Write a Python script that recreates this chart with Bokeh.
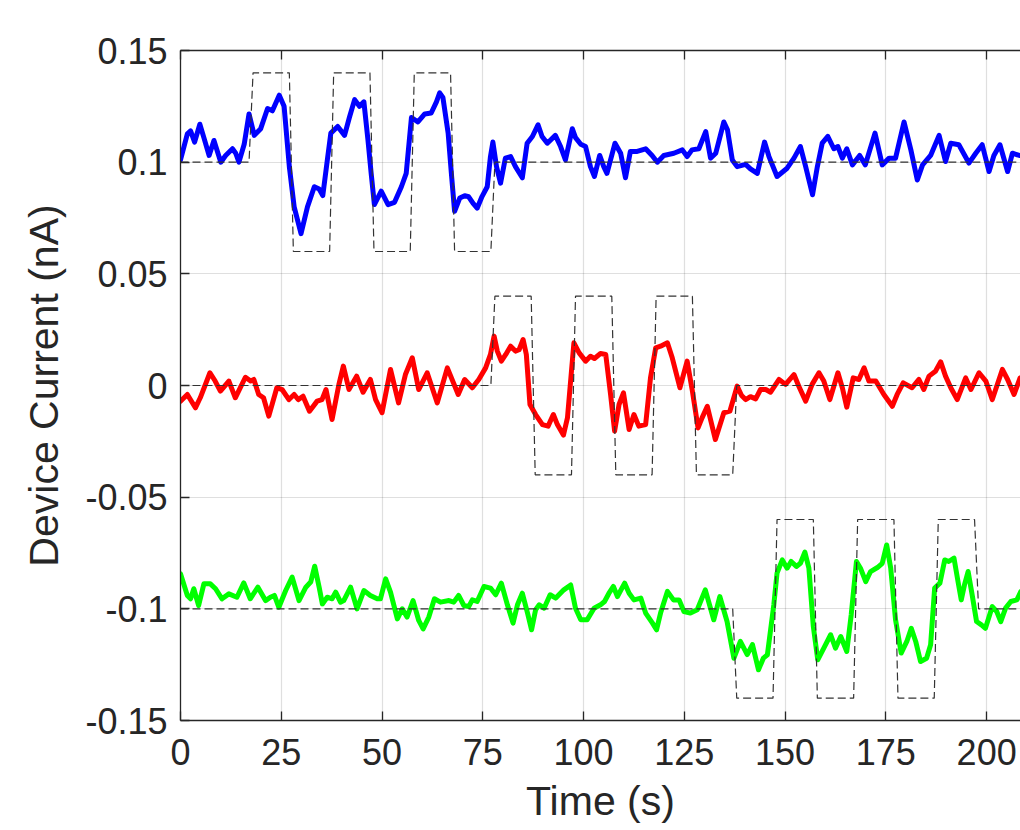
from bokeh.plotting import figure
from bokeh.models import LinearAxis, FixedTicker, Range1d
from bokeh.embed import file_html
from bokeh.resources import INLINE

# ---------------- data ----------------
blue_t = [0.0, 1.7, 2.5, 3.5, 4.8, 5.8, 7.1, 8.3, 10.0, 11.2, 12.9, 13.7, 14.5, 15.8, 17.0, 18.3, 19.9,
          21.6, 22.8, 24.5, 25.7, 27.0, 28.2, 29.9, 31.5, 33.2, 34.4, 35.3, 36.5, 37.3, 39.0, 40.7,
          41.9, 43.2, 44.4, 45.5, 46.5, 47.3, 48.1, 49.8, 51.5, 53.1, 54.8, 56.0, 57.3, 58.9, 60.6,
          62.2, 63.5, 64.3, 65.1, 66.4, 67.2, 68.0, 69.3, 70.5, 71.5, 72.6, 73.6, 74.8, 76.1, 76.9,
          77.5, 78.4, 79.4, 80.6, 81.9, 83.1, 84.8, 86.0, 87.3, 88.7, 89.7, 91.0, 93.0, 94.3, 95.5,
          97.2, 98.0, 99.3, 100.5, 101.7, 102.7, 104.0, 105.0, 105.8, 107.8, 109.2, 110.4, 111.6,
          113.3, 115.4, 117.0, 118.3, 119.9, 122.4, 124.5, 125.7, 126.9, 128.6, 130.3, 131.5, 132.8,
          134.8, 135.7, 136.9, 138.1, 140.2, 141.4, 143.1, 144.9, 146.0, 148.0, 150.5, 152.2, 153.8,
          155.1, 156.8, 158.0, 159.2, 160.6, 162.1, 163.1, 164.2, 165.3, 166.7, 168.5, 169.9, 172.3,
          174.1, 175.8, 177.4, 179.5, 181.2, 182.8, 184.1, 186.1, 188.2, 189.8, 191.1, 193.1, 195.6,
          197.3, 198.9, 200.6, 201.8, 203.3, 205.2, 206.4, 208.1, 209.0]
blue_v = [0.1010, 0.1127, 0.1140, 0.1090, 0.1170, 0.1110, 0.1030, 0.1097, 0.1000, 0.1030, 0.1060,
          0.1040, 0.1000, 0.1080, 0.1216, 0.1120, 0.1150, 0.1240, 0.1230, 0.1300, 0.1250, 0.0980,
          0.0800, 0.0680, 0.0800, 0.0890, 0.0880, 0.0850, 0.1020, 0.1130, 0.1160, 0.1120, 0.1200,
          0.1280, 0.1250, 0.1270, 0.1100, 0.0950, 0.0810, 0.0870, 0.0810, 0.0820, 0.0890, 0.0950,
          0.1200, 0.1180, 0.1216, 0.1220, 0.1270, 0.1310, 0.1290, 0.1130, 0.0950, 0.0780, 0.0840,
          0.0850, 0.0845, 0.0815, 0.0794, 0.0846, 0.0890, 0.1025, 0.1090, 0.0980, 0.0906, 0.1018,
          0.1025, 0.0980, 0.0930, 0.1085, 0.1115, 0.1167, 0.1115, 0.1085, 0.1120, 0.1070, 0.1010,
          0.1150, 0.1110, 0.1080, 0.1070, 0.0980, 0.0936, 0.1030, 0.0980, 0.0950, 0.1085, 0.1040,
          0.0930, 0.1048, 0.1048, 0.1060, 0.1030, 0.1000, 0.1030, 0.1040, 0.1055, 0.1025, 0.1055,
          0.1060, 0.1137, 0.1018, 0.1040, 0.1180, 0.1145, 0.1010, 0.0980, 0.0990, 0.0970, 0.0950,
          0.1090, 0.1025, 0.0936, 0.0973, 0.1018, 0.1070, 0.0980, 0.0854, 0.0980, 0.1085, 0.1115,
          0.1060, 0.1070, 0.1018, 0.1060, 0.0988, 0.1030, 0.0988, 0.1130, 0.0988, 0.1018, 0.1018,
          0.1180, 0.1055, 0.0920, 0.0988, 0.1030, 0.1120, 0.1003, 0.1085, 0.1078, 0.0996, 0.1040,
          0.1078, 0.0958, 0.1030, 0.1078, 0.0958, 0.1040, 0.1030, 0.1030]

red_t = [0.0, 1.7, 3.7, 4.9, 7.3, 8.6, 9.9, 12.0, 13.6, 16.1, 17.4, 18.2, 19.4, 20.6, 21.9, 23.9, 25.2,
         26.9, 28.2, 29.2, 30.4, 32.0, 33.9, 35.1, 36.1, 37.6, 39.3, 40.4, 41.8, 43.7, 45.3, 47.1,
         48.4, 50.0, 52.1, 54.1, 55.8, 57.5, 59.1, 61.2, 63.7, 66.2, 68.9, 70.5, 72.4, 74.0, 75.7,
         76.9, 77.8, 78.6, 79.6, 80.7, 81.9, 83.1, 84.0, 85.0, 85.8, 86.7, 88.1, 89.8, 91.2, 92.5,
         93.5, 95.0, 96.0, 97.6, 98.9, 100.5, 101.7, 102.7, 104.2, 105.5, 106.7, 107.7, 108.8, 109.9,
         111.3, 112.5, 113.7, 115.4, 116.6, 117.9, 119.1, 120.8, 122.0, 123.9, 125.7, 127.0, 128.4,
         129.4, 130.7, 132.7, 134.8, 136.3, 138.1, 139.2, 140.2, 141.4, 142.7, 143.9, 145.2, 146.4,
         148.5, 150.1, 152.2, 153.4, 155.1, 156.7, 158.4, 159.6, 161.1, 163.1, 164.2, 165.3, 166.9,
         168.3, 169.6, 170.8, 172.5, 174.5, 176.6, 177.8, 179.3, 181.5, 183.2, 184.4, 185.7, 187.3,
         188.6, 189.8, 191.1, 192.7, 194.8, 196.1, 198.1, 199.8, 201.4, 203.9, 205.2, 206.8, 208.3,
         209.0]
red_v = [-0.0070, -0.0040, -0.0100, -0.0055, 0.0057, 0.0020, -0.0025, 0.0020, -0.0055, 0.0037, 0.0020,
         0.0027, -0.0040, -0.0055, -0.0137, -0.0010, -0.0018, -0.0063, -0.0040, -0.0063, -0.0048,
         -0.0115, -0.0070, -0.0063, -0.0018, -0.0152, 0.0005, 0.0087, -0.0018, 0.0042, -0.0030,
         0.0027, -0.0063, -0.0122, 0.0072, -0.0078, 0.0049, 0.0124, -0.0018, 0.0057, -0.0078, 0.0079,
         -0.0040, 0.0027, -0.0010, 0.0027, 0.0079, 0.0139, 0.0221, 0.0154, 0.0109, 0.0139, 0.0176,
         0.0154, 0.0160, 0.0206, 0.0139, -0.0085, -0.0130, -0.0175, -0.0182, -0.0130, -0.0175,
         -0.0222, -0.0145, 0.0191, 0.0146, 0.0109, 0.0131, 0.0121, 0.0143, 0.0139, -0.0040, -0.0204,
         -0.0085, -0.0033, -0.0197, -0.0130, -0.0182, -0.0175, 0.0034, 0.0169, 0.0176, 0.0191, 0.0124,
         -0.0010, 0.0109, -0.0025, -0.0190, -0.0145, -0.0093, -0.0242, -0.0122, -0.0115, -0.0003,
         -0.0045, -0.0063, -0.0050, -0.0060, -0.0018, -0.0018, -0.0030, 0.0027, 0.0005, 0.0049,
         -0.0003, -0.0070, 0.0005, 0.0057, 0.0020, -0.0063, 0.0057, -0.0010, -0.0097, 0.0034, 0.0027,
         0.0079, 0.0020, 0.0020, -0.0040, -0.0093, -0.0040, 0.0012, -0.0010, 0.0027, -0.0018, 0.0042,
         0.0064, 0.0106, 0.0042, -0.0010, -0.0063, 0.0034, -0.0018, 0.0057, 0.0020, -0.0063, 0.0072,
         0.0027, -0.0040, 0.0034, 0.0040]

green_t = [0.0, 1.7, 2.5, 3.3, 4.5, 5.8, 7.4, 8.7, 10.3, 12.0, 14.0, 15.7, 17.3, 19.2, 21.1, 22.3, 23.3,
           24.4, 26.1, 27.7, 29.4, 31.1, 32.3, 33.3, 34.4, 35.2, 36.4, 37.6, 38.5, 39.7, 40.5, 42.2,
           43.8, 45.5, 47.1, 48.8, 49.6, 50.9, 52.1, 53.8, 55.0, 56.2, 57.7, 59.1, 60.2, 61.6, 63.0,
           64.5, 66.6, 67.8, 69.0, 70.3, 71.5, 72.4, 73.6, 75.3, 76.9, 78.2, 79.6, 81.1, 82.5, 83.6,
           84.8, 86.1, 87.1, 88.1, 89.0, 90.2, 91.7, 93.1, 95.1, 96.8, 98.0, 99.3, 100.9, 102.6,
           104.2, 105.2, 106.3, 107.4, 108.4, 110.2, 111.3, 112.5, 114.2, 115.4, 117.1, 118.1, 119.1,
           120.8, 122.3, 123.7, 124.9, 126.5, 128.2, 130.2, 132.3, 133.8, 135.6, 137.3, 138.9, 140.6,
           141.9, 143.4, 144.6, 145.6, 147.2, 148.0, 149.3, 150.5, 151.5, 152.8, 153.8, 154.9, 155.9,
           157.0, 158.1, 159.6, 161.3, 162.5, 163.8, 165.3, 166.4, 167.7, 168.7, 170.0, 171.2, 172.9,
           174.1, 175.2, 176.2, 177.4, 178.8, 180.2, 181.3, 182.4, 183.6, 185.1, 186.1, 187.1, 188.4,
           189.6, 190.6, 191.9, 192.9, 193.7, 194.5, 195.4, 196.4, 197.5, 198.7, 199.7, 201.4, 202.5,
           203.5, 204.7, 206.0, 207.5, 208.5, 209.0]
green_v = [-0.0843, -0.0940, -0.0955, -0.0910, -0.0985, -0.0888, -0.0888, -0.0910, -0.0955, -0.0933,
           -0.0948, -0.0884, -0.0955, -0.0903, -0.0963, -0.0948, -0.0940, -0.0993, -0.0918, -0.0858,
           -0.0963, -0.0903, -0.0880, -0.0809, -0.0903, -0.0978, -0.0948, -0.0955, -0.0925, -0.0970,
           -0.0963, -0.0903, -0.1000, -0.0918, -0.0940, -0.0955, -0.0955, -0.0866, -0.0925, -0.1045,
           -0.1000, -0.1037, -0.0963, -0.1052, -0.1090, -0.1037, -0.0955, -0.0970, -0.0963, -0.0970,
           -0.0940, -0.0985, -0.0990, -0.0960, -0.0967, -0.0900, -0.0907, -0.0937, -0.0885, -0.0982,
           -0.1064, -0.0982, -0.0930, -0.1019, -0.1094, -0.1004, -0.0982, -0.0997, -0.0937, -0.0952,
           -0.0915, -0.0893, -0.0997, -0.1049, -0.1049, -0.0997, -0.0982, -0.0967, -0.0930, -0.0900,
           -0.0945, -0.0885, -0.0930, -0.0960, -0.0952, -0.1019, -0.1064, -0.1094, -0.1019, -0.0922,
           -0.0960, -0.0960, -0.1012, -0.1019, -0.1004, -0.0915, -0.1049, -0.0945, -0.1057, -0.1221,
           -0.1146, -0.1205, -0.1160, -0.1273, -0.1221, -0.1206, -0.0982, -0.0840, -0.0781, -0.0818,
           -0.0788, -0.0810, -0.0796, -0.0746, -0.0818, -0.1079, -0.1228, -0.1176, -0.1116, -0.1176,
           -0.1124, -0.1191, -0.1027, -0.0788, -0.0818, -0.0878, -0.0833, -0.0815, -0.0796, -0.0714,
           -0.0818, -0.1049, -0.1198, -0.1146, -0.1087, -0.1146, -0.1236, -0.1221, -0.1161, -0.0907,
           -0.0885, -0.0781, -0.0788, -0.0773, -0.0878, -0.0960, -0.0893, -0.0833, -0.0937, -0.1057,
           -0.1072, -0.1087, -0.0990, -0.1012, -0.1057, -0.0997, -0.0967, -0.0960, -0.0922, -0.0915]

# reference (target) square waves
blue_ref_t = [0, 17, 18, 27, 28, 37, 38, 47, 48, 57, 58, 67, 68, 77, 78, 210]
blue_ref_v = [0.10, 0.10, 0.14, 0.14, 0.06, 0.06, 0.14, 0.14, 0.06, 0.06, 0.14, 0.14, 0.06, 0.06, 0.10, 0.10]
red_ref_t = [0, 77, 78, 87, 88, 97, 98, 107, 108, 117, 118, 127, 128, 137, 138, 210]
red_ref_v = [0.0, 0.0, 0.04, 0.04, -0.04, -0.04, 0.04, 0.04, -0.04, -0.04, 0.04, 0.04, -0.04, -0.04, 0.0, 0.0]
green_ref_t = [0, 137, 138, 147, 148, 157, 158, 167, 168, 177, 178, 187, 188, 197, 198, 210]
green_ref_v = [-0.10, -0.10, -0.14, -0.14, -0.06, -0.06, -0.14, -0.14, -0.06, -0.06, -0.14, -0.14,
               -0.06, -0.06, -0.10, -0.10]

xtick_vals = [0, 25, 50, 75, 100, 125, 150, 175, 200]
ytick_vals = [-0.15, -0.1, -0.05, 0, 0.05, 0.1, 0.15]
ytick_labels = ["-0.15", "-0.1", "-0.05", "0", "0.05", "0.1", "0.15"]
x_label = "Time (s)"
y_label = "Device Current (nA)"

# ---------------- figure ----------------
FONT = "Liberation Sans"
AX = "#262626"

p = figure(width=1020, height=830, output_backend="svg", toolbar_location=None,
           x_range=Range1d(0, 208.4), y_range=Range1d(-0.15, 0.15),
           min_border_left=180, min_border_right=0, min_border_top=50, min_border_bottom=110)
p.outline_line_color = None
p.background_fill_color = "white"
p.border_fill_color = "white"

for ax in (p.xaxis[0], p.yaxis[0]):
    ax.axis_line_color = AX
    ax.axis_line_width = 1.3
    ax.major_tick_line_color = AX
    ax.major_tick_line_width = 1.3
    ax.major_tick_in = 9
    ax.major_tick_out = 0
    ax.minor_tick_line_color = None
    ax.major_label_text_font = FONT
    ax.major_label_text_font_size = "36px"
    ax.major_label_text_color = AX
    ax.axis_label_text_font = FONT
    ax.axis_label_text_font_size = "41px"
    ax.axis_label_text_font_style = "normal"
    ax.axis_label_text_color = AX

p.xaxis.ticker = FixedTicker(ticks=xtick_vals)
p.yaxis.ticker = FixedTicker(ticks=ytick_vals)
p.yaxis.major_label_overrides = {v: s for v, s in zip(ytick_vals, ytick_labels)}
p.xaxis.axis_label = x_label
p.yaxis.axis_label = y_label
p.xaxis.major_label_standoff = 18
p.yaxis.major_label_standoff = 13
p.xaxis.axis_label_standoff = 10
p.yaxis.axis_label_standoff = 15

# top box edge with inward ticks (drawn as minor ticks so no labels are created)
top = LinearAxis(ticker=FixedTicker(ticks=[], minor_ticks=xtick_vals))
top.axis_line_color = AX
top.axis_line_width = 1.3
top.major_tick_line_color = None
top.minor_tick_line_color = AX
top.minor_tick_line_width = 1.3
top.minor_tick_in = 9
top.minor_tick_out = 0
p.add_layout(top, "above")

p.xgrid.ticker = FixedTicker(ticks=xtick_vals)
p.ygrid.ticker = FixedTicker(ticks=ytick_vals)
for g in (p.xgrid[0], p.ygrid[0]):
    g.grid_line_color = AX
    g.grid_line_alpha = 0.15
    g.grid_line_width = 1.2

for t, v, col in ((blue_t, blue_v, "#0000FF"), (red_t, red_v, "#FF0000"), (green_t, green_v, "#00FF00")):
    p.line(t, v, line_color=col, line_width=5, line_join="round", line_cap="round")

for t, v in ((blue_ref_t, blue_ref_v), (red_ref_t, red_ref_v), (green_ref_t, green_ref_v)):
    p.line(t, v, line_color="#333333", line_width=1.2, line_dash="8 4")

open("out.html", "w").write(file_html(p, INLINE))
